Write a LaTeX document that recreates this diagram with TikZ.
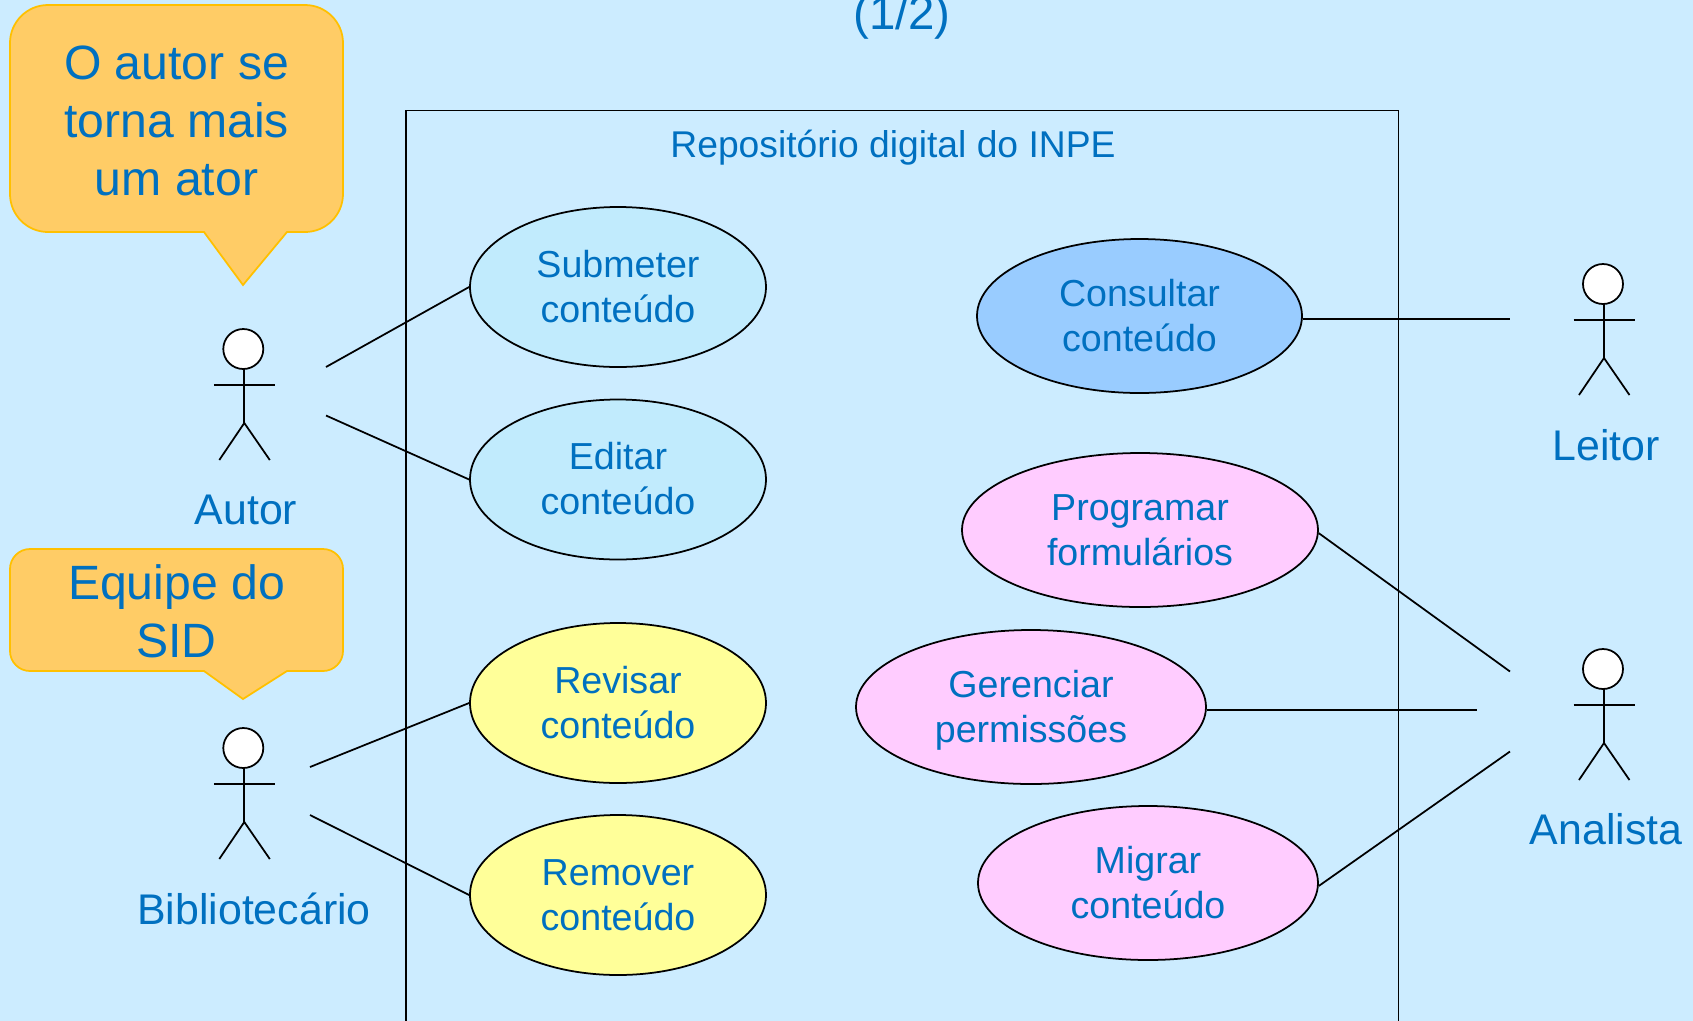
\documentclass[tikz,border=0pt]{standalone}
\usepackage{fontspec}
\setmainfont{Liberation Sans}
\usetikzlibrary{shapes.geometric}
\definecolor{fundo}{HTML}{CCECFF}
\definecolor{texto}{HTML}{0070C0}
\definecolor{balao}{HTML}{FFCC66}
\definecolor{borda}{HTML}{FFC000}
\definecolor{azulclaro}{HTML}{C1EBFD}
\definecolor{azul}{HTML}{99CCFF}
\definecolor{rosa}{HTML}{FFCCFF}
\definecolor{amarelo}{HTML}{FFFF99}
\tikzset{
	caso/.style={draw, ellipse, inner sep=0pt, align=center, text=texto, font=\fontsize{10.7}{12.8}\selectfont},
	ator/.style={text=texto, font=\fontsize{12.2}{14}\selectfont},
	balaotexto/.style={align=center, text=texto, font=\fontsize{13.7}{16.5}\selectfont},
	balaoforma/.style={draw=borda, fill=balao, line width=0.5pt},
	cabeca/.style={draw, circle, fill=white, inner sep=0pt, minimum size=0.4cm}
}
\newcommand{\boneco}[3]{
	\node [cabeca] (#3) at (#1,#2) {};
	\draw (#1+0.01,#2+0.2) -- (#1+0.01,#2+0.74);
	\draw (#1-0.295,#2+0.36) -- (#1+0.315,#2+0.36);
	\draw (#1-0.24,#2+1.11) -- (#1+0.01,#2+0.74) -- (#1+0.265,#2+1.11);
}
\newcommand{\linhas}[2]{\rule{0pt}{11pt}#1\\\strut #2}
\begin{document}
\begin{tikzpicture}[x=1cm,y=-1cm,line width=0.5pt]
	\clip (0,0) rectangle (16.93,10.21);
	\fill [fundo] (0,0) rectangle (16.93,10.21);
	\node [text=texto, font=\fontsize{13.5}{16}\selectfont] (parte) at (9.02,0.17) {(1/2)};
	% Sistema
	\draw [line width=0.55pt] (4.06,11) -- (4.06,1.105) -- (13.985,1.105) -- (13.985,11);
	\node [text=texto, font=\fontsize{10.6}{13}\selectfont] (sistema) at (8.93,1.48) {Repositório digital do INPE};
	% Baloes
	\draw [balaoforma] (2.04,2.32) [rounded corners=0.38cm] -- (0.10,2.32) -- (0.10,0.05) -- (3.43,0.05) -- (3.43,2.32) [sharp corners] -- (2.87,2.32) -- (2.43,2.85) -- cycle;
	\node [balaotexto] (dica1) at (1.765,1.205) {O autor se\\torna mais\\um ator};
	\draw [balaoforma] (2.04,6.71) [rounded corners=0.2cm] -- (0.10,6.71) -- (0.10,5.49) -- (3.43,5.49) -- (3.43,6.71) [sharp corners] -- (2.87,6.71) -- (2.43,6.99) -- cycle;
	\node [balaotexto] (dica2) at (1.765,6.11) {Equipe do\\SID};
	% Casos de uso
	\node [caso, fill=azulclaro, minimum width=2.96cm, minimum height=1.60cm] (submeter) at (6.18,2.87) {\linhas{Submeter}{conteúdo}};
	\node [caso, fill=azulclaro, minimum width=2.96cm, minimum height=1.60cm] (editar) at (6.18,4.795) {\linhas{Editar}{conteúdo}};
	\node [caso, fill=amarelo, minimum width=2.96cm, minimum height=1.60cm] (revisar) at (6.18,7.03) {\linhas{Revisar}{conteúdo}};
	\node [caso, fill=amarelo, minimum width=2.96cm, minimum height=1.60cm] (remover) at (6.18,8.95) {\linhas{Remover}{conteúdo}};
	\node [caso, fill=azul, minimum width=3.25cm, minimum height=1.54cm] (consultar) at (11.395,3.16) {\linhas{Consultar}{conteúdo}};
	\node [caso, fill=rosa, minimum width=3.56cm, minimum height=1.54cm] (programar) at (11.40,5.30) {\linhas{Programar}{formulários}};
	\node [caso, fill=rosa, minimum width=3.50cm, minimum height=1.54cm] (gerenciar) at (10.31,7.07) {\linhas{Gerenciar}{permissões}};
	\node [caso, fill=rosa, minimum width=3.40cm, minimum height=1.54cm] (migrar) at (11.48,8.83) {\linhas{Migrar}{conteúdo}};
	% Atores
	\boneco{2.433}{3.49}{autor}
	\boneco{2.433}{7.48}{bibliotecario}
	\boneco{16.03}{2.84}{leitor}
	\boneco{16.03}{6.69}{analista}
	\node [ator] (autornome) at (2.46,5.10) {Autor};
	\node [ator] (biblionome) at (2.54,9.09) {Bibliotecário};
	\node [ator] (leitornome) at (16.06,4.45) {Leitor};
	\node [ator] (analistanome) at (16.06,8.29) {Analista};
	% Pontas livres
	\coordinate (a1) at (3.26,3.67);
	\coordinate (a2) at (3.26,4.155);
	\coordinate (b1) at (3.10,7.67);
	\coordinate (b2) at (3.10,8.15);
	\coordinate (l1) at (15.10,3.19);
	\coordinate (n1) at (15.10,6.715);
	\coordinate (n2) at (14.77,7.10);
	\coordinate (n3) at (15.10,7.515);
	% Ligacoes
	\draw (a1) -- (submeter.west);
	\draw (a2) -- (editar.west);
	\draw (b1) -- (revisar.west);
	\draw (b2) -- (remover.west);
	\draw (l1 -| consultar.east) -- (l1);
	\draw (programar.-1.4) -- (n1);
	\draw (n2 -| gerenciar.east) -- (n2);
	\draw (migrar.-1.1) -- (n3);
\end{tikzpicture}
\end{document}
